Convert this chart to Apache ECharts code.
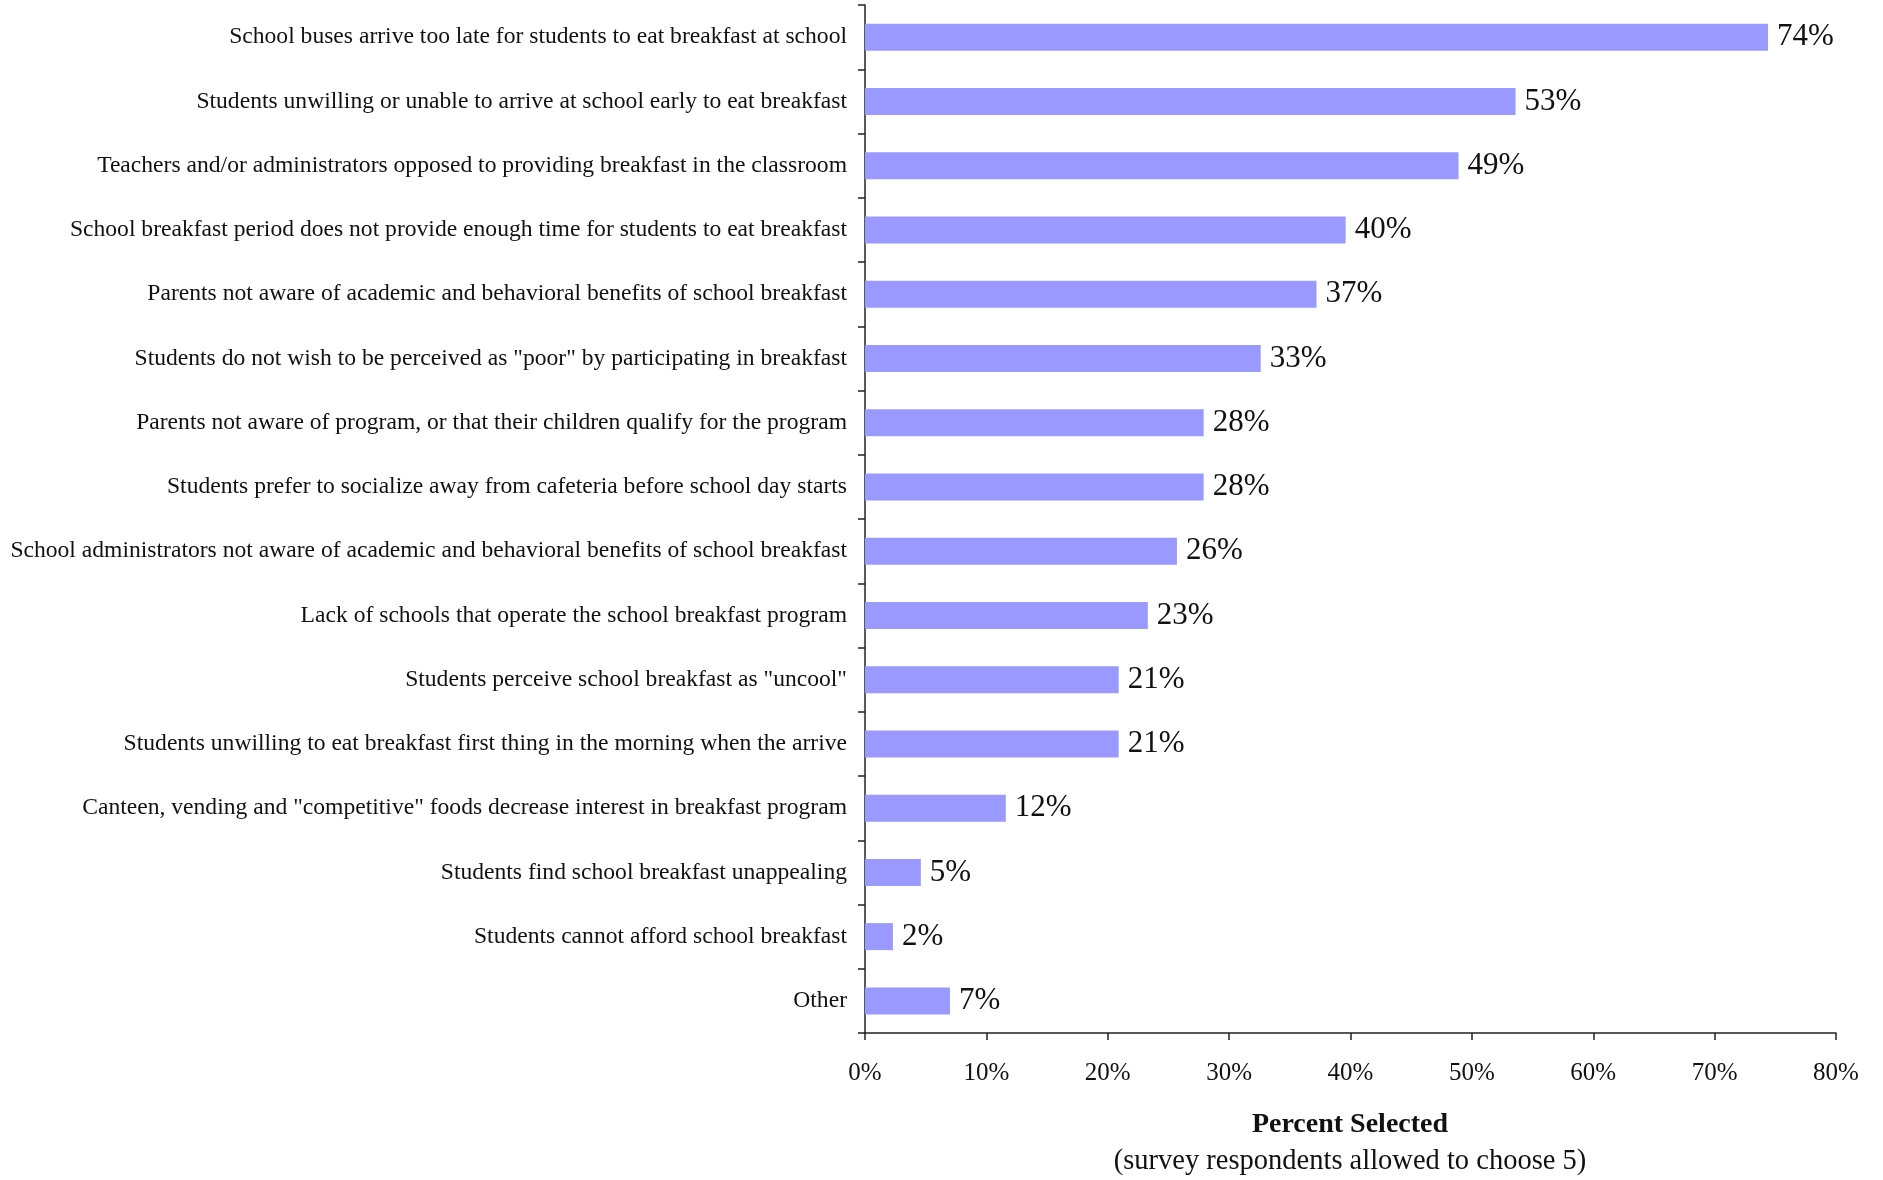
<!DOCTYPE html>
<html>
<head>
<meta charset="utf-8">
<script src="https://cdn.jsdelivr.net/npm/echarts@6/dist/echarts.min.js"></script>
<style>
html,body{margin:0;padding:0;background:#fff;}
#chart{width:1883px;height:1180px;}
</style>
</head>
<body>
<div id="chart"></div>
<script>
const categories = [
  'School buses arrive too late for students to eat breakfast at school',
  'Students unwilling or unable to arrive at school early to eat breakfast',
  'Teachers and/or administrators opposed to providing breakfast in the classroom',
  'School breakfast period does not provide enough time for students to eat breakfast',
  'Parents not aware of academic and behavioral benefits of school breakfast',
  'Students do not wish to be perceived as "poor" by participating in breakfast',
  'Parents not aware of program, or that their children qualify for the program',
  'Students prefer to socialize away from cafeteria before school day starts',
  'School administrators not aware of academic and behavioral benefits of school breakfast',
  'Lack of schools that operate the school breakfast program',
  'Students perceive school breakfast as "uncool"',
  'Students unwilling to eat breakfast first thing in the morning when the arrive',
  'Canteen, vending and "competitive" foods decrease interest in breakfast program',
  'Students find school breakfast unappealing',
  'Students cannot afford school breakfast',
  'Other'
];
const values = [74.4, 53.6, 48.9, 39.6, 37.2, 32.6, 27.9, 27.9, 25.7, 23.3, 20.9, 20.9, 11.6, 4.6, 2.3, 7.0];
const valueLabels = ['74%', '53%', '49%', '40%', '37%', '33%', '28%', '28%', '26%', '23%', '21%', '21%', '12%', '5%', '2%', '7%'];
const xTicks = [0, 10, 20, 30, 40, 50, 60, 70, 80];
const axisTitle = 'Percent Selected';
const axisSubtitle = '(survey respondents allowed to choose 5)';

const FONT = '"Liberation Serif", "DejaVu Serif", serif';
const chart = echarts.init(document.getElementById('chart'));
chart.setOption({
  animation: false,
  backgroundColor: '#ffffff',
  textStyle: { fontFamily: FONT },
  grid: { left: 865, right: 47, top: 5, bottom: 147, containLabel: false },
  xAxis: {
    type: 'value',
    min: xTicks[0], max: xTicks[xTicks.length - 1], interval: 10,
    splitLine: { show: false },
    axisLine: { show: true, lineStyle: { color: '#222', width: 1.5 } },
    axisTick: { show: true, length: 7, lineStyle: { color: '#222', width: 1.5 } },
    axisLabel: { formatter: '{value}%', fontFamily: FONT, fontSize: 25, color: '#111', margin: 28 }
  },
  yAxis: {
    type: 'category',
    inverse: true,
    data: categories,
    axisLine: { show: true, lineStyle: { color: '#222', width: 1.5 } },
    axisTick: { show: true, length: 7, lineStyle: { color: '#222', width: 1.5 } },
    axisLabel: { fontFamily: FONT, fontSize: 23.6, color: '#111', margin: 18 }
  },
  series: [{
    type: 'bar',
    data: values,
    barWidth: 27,
    itemStyle: { color: '#9999FF' },
    label: {
      show: true, position: 'right', distance: 9,
      fontFamily: FONT, fontSize: 31, color: '#111',
      formatter: p => valueLabels[p.dataIndex]
    }
  }],
  graphic: [
    { type: 'text', x: 1350, y: 1125, style: { text: axisTitle, font: 'bold 28px ' + FONT, fill: '#111', align: 'center', verticalAlign: 'middle' } },
    { type: 'text', x: 1350, y: 1162, style: { text: axisSubtitle, font: '28.5px ' + FONT, fill: '#111', align: 'center', verticalAlign: 'middle' } }
  ]
});
</script>
</body>
</html>
